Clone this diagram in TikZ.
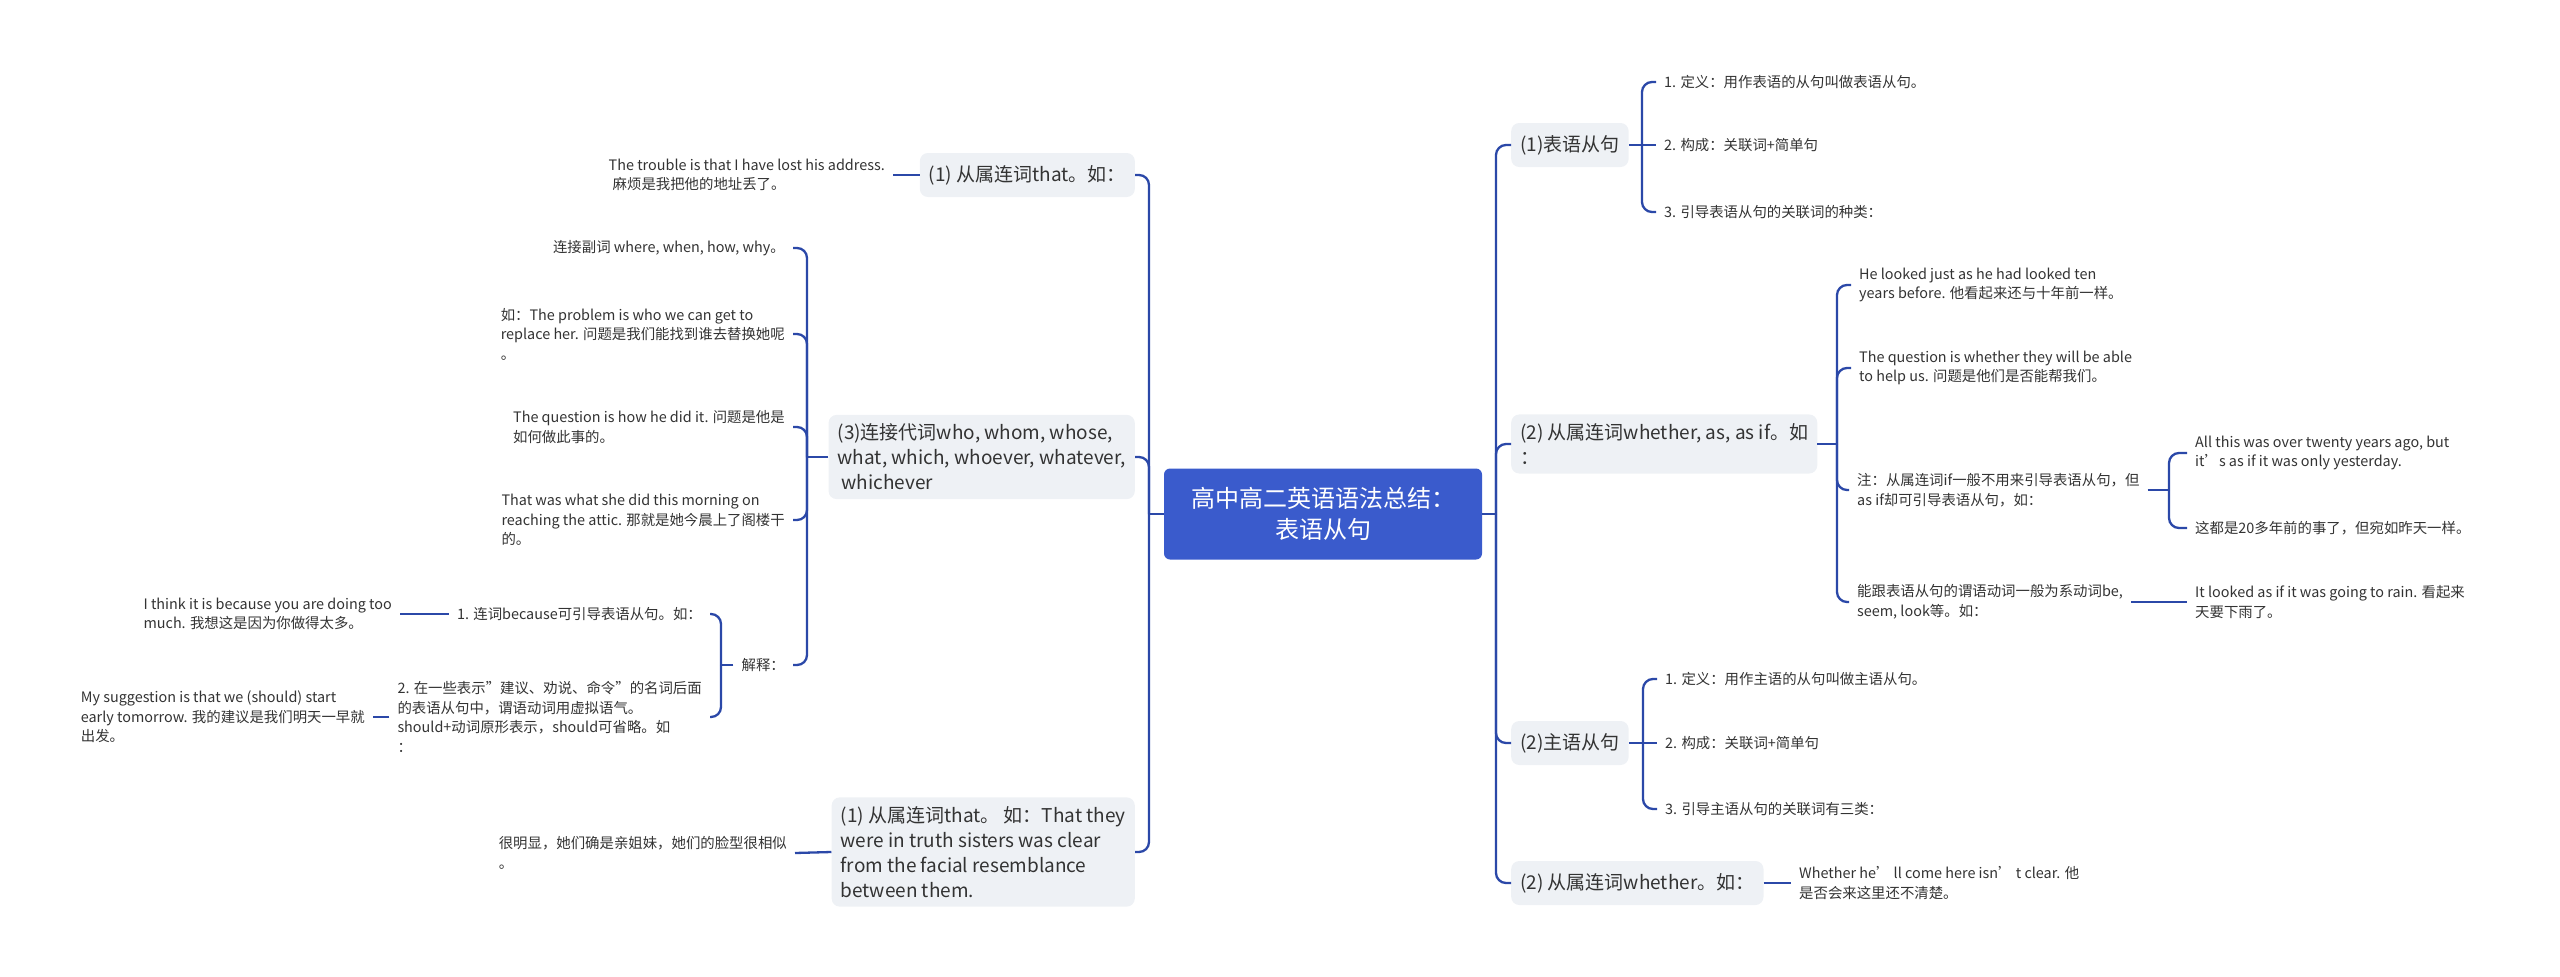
\documentclass[tikz,border=0pt]{standalone}
\usepackage{fontspec}
\setmainfont{Noto Sans CJK SC}
\usepackage{xcolor}
\usepackage{tikz}

\definecolor{linkblue}{HTML}{2B48A8}
\definecolor{rootblue}{HTML}{3A5BCC}
\definecolor{boxgray}{HTML}{EEF1F5}
\definecolor{inkgray}{HTML}{333333}

\tikzset{
	link/.style={draw=linkblue, line width=2.3pt, rounded corners=10pt},
	root/.style={fill=rootblue, rounded corners=6pt, text=white, align=center, minimum width=318pt, minimum height=91pt, font=\fontsize{24}{31}\selectfont},
	topic/.style={fill=boxgray, rounded corners=8pt, inner xsep=9pt, inner ysep=9pt, minimum height=44pt, text=inkgray, align=left, font=\fontsize{19}{25}\selectfont},
	leaf/.style={inner xsep=8pt, inner ysep=2pt, text=inkgray, align=left, font=\fontsize{14.4}{19.5}\selectfont}
}

\begin{document}
\begin{tikzpicture}[x=1pt,y=-1pt]
		\useasboundingbox (0,0) rectangle (2560,977);
		% root
		\node[root] (root) at (1323,514) {高中高二英语语法总结：\\表语从句};
		
		% right side
		\node[topic, anchor=west] (t1) at (1511,145) {(1)表语从句};
		\node[topic, anchor=west] (t2) at (1511,444) {(2) 从属连词whether, as, as if。如\\：};
		\node[topic, anchor=west] (t3) at (1511,743) {(2)主语从句};
		\node[topic, anchor=west] (t4) at (1511,883) {(2) 从属连词whether。如：};
		
		\node[leaf, anchor=west] (t1a) at (1656,82) {1. 定义：用作表语的从句叫做表语从句。};
		\node[leaf, anchor=west] (t1b) at (1656,145) {2. 构成：关联词+简单句};
		\node[leaf, anchor=west] (t1c) at (1656,212) {3. 引导表语从句的关联词的种类：};
		
		\node[leaf, anchor=west] (t2a) at (1851,285) {He looked just as he had looked ten\\years before. 他看起来还与十年前一样。};
		\node[leaf, anchor=west] (t2b) at (1851,368) {The question is whether they will be able\\to help us. 问题是他们是否能帮我们。};
		\node[leaf, anchor=west] (t2c) at (1849,490) {注：从属连词if一般不用来引导表语从句，但\\as if却可引导表语从句，如：};
		\node[leaf, anchor=west] (t2d) at (1849,602) {能跟表语从句的谓语动词一般为系动词be,\\seem, look等。如：};
		\node[leaf, anchor=west] (t2c1) at (2187,453) {All this was over twenty years ago, but\\it's as if it was only yesterday.};
		\node[leaf, anchor=west] (t2c2) at (2187,528) {这都是20多年前的事了，但宛如昨天一样。};
		\node[leaf, anchor=west] (t2d1) at (2187,602) {It looked as if it was going to rain. 看起来\\天要下雨了。};
		
		\node[leaf, anchor=west] (t3a) at (1657,679) {1. 定义：用作主语的从句叫做主语从句。};
		\node[leaf, anchor=west] (t3b) at (1657,743) {2. 构成：关联词+简单句};
		\node[leaf, anchor=west] (t3c) at (1657,809) {3. 引导主语从句的关联词有三类：};
		
		\node[leaf, anchor=west] (t4a) at (1791,883) {Whether he’ ll come here isn’ t clear. 他\\是否会来这里还不清楚。};
		
		% left side
		\node[topic, anchor=east] (ta) at (1135,175) {(1) 从属连词that。如：};
		\node[topic, anchor=east] (tb) at (1135,457) {(3)连接代词who, whom, whose,\\what, which, whoever, whatever,\\\hspace{4pt}whichever};
		\node[topic, anchor=east] (tc) at (1135,852) {(1) 从属连词that。 如：That they\\were in truth sisters was clear\\from the facial resemblance\\between them.};
		
		\node[leaf, anchor=east] (taa) at (893,175) {The trouble is that I have lost his address.\\\hspace{4pt}麻烦是我把他的地址丢了。};
		
		\node[leaf, anchor=east] (tb1) at (793,248) {连接副词 where, when, how, why。};
		\node[leaf, anchor=east] (tb2) at (793,334) {如：The problem is who we can get to\\replace her. 问题是我们能找到谁去替换她呢\\。};
		\node[leaf, anchor=east] (tb3) at (793,427) {The question is how he did it. 问题是他是\\如何做此事的。};
		\node[leaf, anchor=east] (tb4) at (793,520) {That was what she did this morning on\\reaching the attic. 那就是她今晨上了阁楼干\\的。};
		\node[leaf, anchor=east] (tb5) at (793,665) {解释：};
		
		\node[leaf, anchor=east] (tb5a) at (710,614) {1. 连词because可引导表语从句。如：};
		\node[leaf, anchor=east] (tb5b) at (710,717) {2. 在一些表示"建议、劝说、命令"的名词后面\\的表语从句中，谓语动词用虚拟语气。\\should+动词原形表示，should可省略。如\\：};
		\node[leaf, anchor=east] (tb5a1) at (400,614) {I think it is because you are doing too\\much. 我想这是因为你做得太多。};
		\node[leaf, anchor=east] (tb5b1) at (373,717) {My suggestion is that we (should) start\\early tomorrow. 我的建议是我们明天一早就\\出发。};
		
		\node[leaf, anchor=east] (tca) at (795,853) {很明显，她们确是亲姐妹，她们的脸型很相似\\。};
		
		% connectors, right
		\coordinate (rj) at (1496,514);
		\draw[link] (root.east) -- (rj);
		\foreach \n in {t1,t2,t3,t4}
		{
		\draw[link] (rj) |- (\n.west);
		}
		\coordinate (t1j) at (1642,145);
		\draw[link] (t1.east) -- (t1j) -- (t1b.west);
		\foreach \n in {t1a,t1c} \draw[link] (t1j) |- (\n.west);
		\coordinate (t2j) at (1837,444);
		\draw[link] (t2.east) -- (t2j);
		\foreach \n in {t2a,t2b,t2c,t2d} \draw[link] (t2j) |- (\n.west);
		\coordinate (t2cj) at (2169,490);
		\draw[link] (t2c.east) -- (t2cj);
		\foreach \n in {t2c1,t2c2} \draw[link] (t2cj) |- (\n.west);
		\draw[link] (t2d.east) -- (t2d1.west);
		\coordinate (t3j) at (1643,743);
		\draw[link] (t3.east) -- (t3j) -- (t3b.west);
		\foreach \n in {t3a,t3c} \draw[link] (t3j) |- (\n.west);
		\draw[link] (t4.east) -- (t4a.west);
		
		% connectors, left
		\coordinate (lj) at (1149,514);
		\draw[link] (root.west) -- (lj);
		\foreach \n in {ta,tb,tc}
		{
		\draw[link] (lj) |- (\n.east);
		}
		\draw[link] (ta.west) -- (taa.east);
		\coordinate (bj) at (807,457);
		\draw[link] (tb.west) -- (bj);
		\foreach \n in {tb1,tb2,tb3,tb4,tb5} \draw[link] (bj) |- (\n.east);
		\coordinate (b5j) at (721,665);
		\draw[link] (tb5.west) -- (b5j);
		\foreach \n in {tb5a,tb5b} \draw[link] (b5j) |- (\n.east);
		\draw[link] (tb5a.west) -- (tb5a1.east);
		\draw[link] (tb5b.west) -- (tb5b1.east);
		\draw[link] (tc.west) -- (tca.east);
	\end{tikzpicture}
\end{document}
